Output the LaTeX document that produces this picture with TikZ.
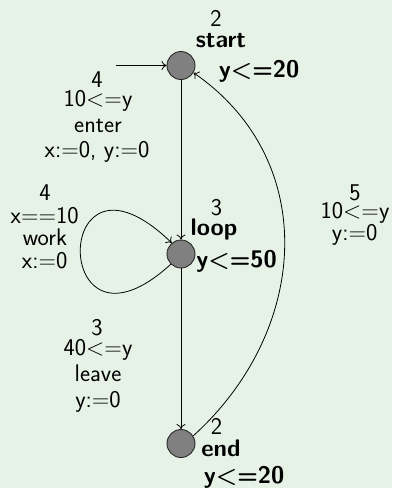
\documentclass[tikz,border=0pt]{standalone}
\usetikzlibrary{arrows.meta}
\definecolor{bgc}{RGB}{230,242,230}
\definecolor{locfill}{RGB}{128,128,128}
\definecolor{locdraw}{RGB}{40,40,40}
\begin{document}
\begin{tikzpicture}[x=1pt,y=-1pt,
  font=\sffamily\fontsize{24}{28}\selectfont,
  loc/.style={circle, draw=locdraw, fill=locfill, line width=0.9pt, minimum size=28pt, inner sep=0pt},
  lbl/.style={inner sep=0pt, anchor=base},
  bl/.style={lbl, font=\sffamily\bfseries\fontsize{24}{28}\selectfont},
  edge/.style={draw, line width=0.8pt, -{To[length=5pt,width=9pt]}}]
\fill[bgc] (0,0) rectangle (392,488);
\useasboundingbox (0,0) rectangle (392,488);
% locations
\node[loc] (start) at (181,65.5) {};
\node[loc] (loop) at (181,254) {};
\node[loc] (end) at (181,443.5) {};
\coordinate (init) at (115.5,65.5);
% location labels
\node[lbl] (s2) at (216,26) {2};
\node[bl] (sname) at (221,47.5) {start};
\node[bl] (sinv) at (259,77) {y<=20};
\node[lbl] (l3) at (216.5,215) {3};
\node[bl] (lname) at (214,235) {loop};
\node[bl] (linv) at (236.5,267) {y<=50};
\node[lbl] (e2) at (216.5,434) {2};
\node[bl] (ename) at (221,456.5) {end};
\node[bl] (einv) at (244,483) {y<=20};
% edges
\draw[edge] (init) -- (start);
\draw[edge] (start) -- (loop);
\draw[edge] (loop) -- (end);
\draw[edge] (loop.225) .. controls (50,375) and (50,125) .. (loop.130);
\draw[edge] (end.32) .. controls (310,330) and (320,160) .. (start.-30);
% edge labels: enter
\node[lbl] (a1) at (97,87) {4};
\node[lbl] (a2) at (98,106) {10<=y};
\node[lbl] (a3) at (98,132) {enter};
\node[lbl] (a4) at (97,157) {x:=0, y:=0};
% work
\node[lbl] (b1) at (45,200) {4};
\node[lbl] (b2) at (44.7,223) {x==10};
\node[lbl] (b3) at (45,245) {work};
\node[lbl] (b4) at (44.7,268) {x:=0};
% leave
\node[lbl] (c1) at (97,335) {3};
\node[lbl] (c2) at (98,355) {40<=y};
\node[lbl] (c3) at (98,381) {leave};
\node[lbl] (c4) at (98,407) {y:=0};
% return
\node[lbl] (d1) at (355,200.5) {5};
\node[lbl] (d2) at (355,218) {10<=y};
\node[lbl] (d3) at (354.7,240.5) {y:=0};
\end{tikzpicture}
\end{document}
